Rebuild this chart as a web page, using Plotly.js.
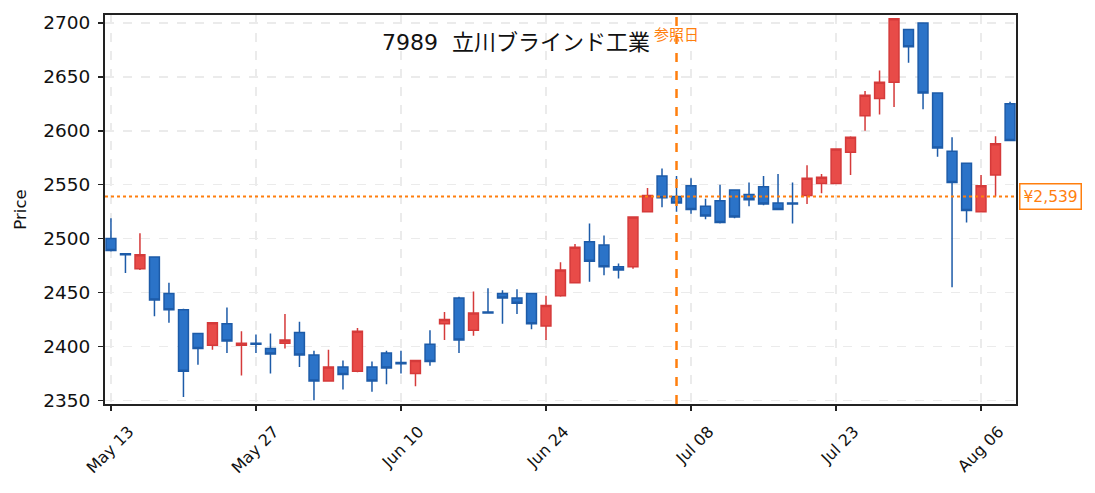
<!DOCTYPE html>
<html>
<head>
<meta charset="utf-8">
<script src="https://cdn.plot.ly/plotly-3.0.1.min.js"></script>
<style>
  html, body { margin: 0; padding: 0; background: #fff; }
  #chart { width: 1095px; height: 493px; }
</style>
</head>
<body>
<div id="chart"></div>
<script>
// trading days, May 13 - Aug 8 2024
const dates = [
  '2024-05-13','2024-05-14','2024-05-15','2024-05-16','2024-05-17',
  '2024-05-20','2024-05-21','2024-05-22','2024-05-23','2024-05-24',
  '2024-05-27','2024-05-28','2024-05-29','2024-05-30','2024-05-31',
  '2024-06-03','2024-06-04','2024-06-05','2024-06-06','2024-06-07',
  '2024-06-10','2024-06-11','2024-06-12','2024-06-13','2024-06-14',
  '2024-06-17','2024-06-18','2024-06-19','2024-06-20','2024-06-21',
  '2024-06-24','2024-06-25','2024-06-26','2024-06-27','2024-06-28',
  '2024-07-01','2024-07-02','2024-07-03','2024-07-04','2024-07-05',
  '2024-07-08','2024-07-09','2024-07-10','2024-07-11','2024-07-12',
  '2024-07-16','2024-07-17','2024-07-18','2024-07-19',
  '2024-07-22','2024-07-23','2024-07-24','2024-07-25','2024-07-26',
  '2024-07-29','2024-07-30','2024-07-31','2024-08-01','2024-08-02',
  '2024-08-05','2024-08-06','2024-08-07','2024-08-08'
]
const opens = [2500,2486,2472,2483,2449,2434,2412,2401,2421,2401,
  2403,2398,2403,2413,2392,2368,2381,2377,2381,2394,
  2385,2375,2402,2421,2445,2415,2432,2449,2445,2449,
  2419,2447,2459,2497,2494,2474,2474,2525,2558,2539,
  2549,2530,2535,2545,2541,2548,2533,2533,2540,2551,
  2551,2580,2614,2630,2645,2694,2700,2635,2581,2570,
  2525,2559,2625]
const highs = [2519,2486,2505,2483,2459,2435,2412,2422,2436,2414,
  2411,2412,2430,2423,2396,2397,2387,2417,2386,2396,
  2396,2387,2415,2432,2446,2451,2454,2452,2453,2449,
  2447,2478,2495,2514,2503,2477,2520,2547,2565,2558,
  2556,2537,2550,2545,2552,2558,2560,2552,2568,2560,
  2583,2595,2637,2656,2704,2694,2700,2635,2594,2570,
  2559,2595,2627]
const lows = [2488,2468,2471,2428,2422,2353,2383,2397,2394,2373,
  2394,2375,2398,2381,2350,2368,2360,2376,2358,2365,
  2375,2363,2382,2406,2394,2410,2431,2421,2430,2416,
  2406,2446,2459,2460,2466,2463,2472,2525,2529,2525,
  2523,2518,2514,2519,2530,2531,2527,2514,2532,2542,
  2551,2559,2600,2615,2622,2663,2620,2576,2455,2515,
  2525,2539,2591]
const closes = [2489,2485,2485,2443,2434,2377,2398,2422,2405,2403,
  2402,2393,2406,2392,2368,2381,2374,2414,2368,2380,
  2384,2387,2386,2425,2406,2431,2431,2445,2440,2421,
  2438,2471,2492,2479,2474,2471,2520,2540,2538,2533,
  2527,2521,2515,2520,2536,2532,2527,2532,2556,2557,
  2583,2594,2633,2645,2704,2678,2635,2584,2552,2526,
  2549,2588,2591]

const tickDates = ['2024-05-13','2024-05-27','2024-06-10','2024-06-24','2024-07-08','2024-07-23','2024-08-06']
const tickLabels = ['May 13','May 27','Jun 10','Jun 24','Jul 08','Jul 23','Aug 06']

const refDate = '2024-07-05'
const refPrice = 2539
const titleText = '7989\u00a0\u00a0立川ブラインド工業'

const orange = '#ff7f0e'
const font = '"DejaVu Sans", "Noto Sans CJK JP", sans-serif'

const trace = {
  type: 'candlestick',
  x: dates,
  open: opens,
  high: highs,
  low: lows,
  close: closes,
  increasing: { line: { color: '#d53a3a', width: 1.5 }, fillcolor: '#e84b48' },
  decreasing: { line: { color: '#1d5ba8', width: 1.5 }, fillcolor: '#2b73c8' },
  whiskerwidth: 0,
  hoverinfo: 'x+y',
  showlegend: false
}

const axisStyle = {
  showline: true,
  mirror: true,
  linecolor: '#222',
  linewidth: 2,
  ticks: 'outside',
  ticklen: 5,
  tickwidth: 1.5,
  tickcolor: '#222',
  showgrid: true,
  gridcolor: '#ebebeb',
  gridwidth: 1.5,
  griddash: 'dash',
  zeroline: false
}

const layout = {
  width: 1095,
  height: 493,
  margin: { l: 105, r: 79, t: 15, b: 89 },
  paper_bgcolor: '#fff',
  plot_bgcolor: '#fff',
  font: { family: font, color: '#111' },
  boxgap: 0.32,
  boxgroupgap: 0,
  xaxis: Object.assign({}, axisStyle, {
    type: 'category',
    range: [-0.41, dates.length - 0.59],
    tickmode: 'array',
    tickvals: tickDates,
    ticktext: tickLabels,
    tickangle: -45,
    tickfont: { size: 16 },
    ticklabelshift: 18,
    ticklabelstandoff: 5,
    rangeslider: { visible: false }
  }),
  yaxis: Object.assign({}, axisStyle, {
    range: [2346.6, 2707.4],
    dtick: 50,
    tick0: 2350,
    tickfont: { size: 18.5 },
    ticklabelstandoff: 4,
    title: { text: 'Price', font: { size: 16.5 }, standoff: 12 }
  }),
  shapes: [
    { type: 'line', xref: 'paper', x0: 0, x1: 1, yref: 'y', y0: refPrice, y1: refPrice,
      line: { color: orange, width: 2, dash: 'dot' } },
    { type: 'line', xref: 'x', x0: refDate, x1: refDate, yref: 'paper', y0: 0, y1: 1,
      line: { color: orange, width: 2.5, dash: 'dash' } }
  ],
  annotations: [
    { text: titleText, xref: 'paper', x: 0.451, yref: 'paper', y: 0.93,
      xanchor: 'center', yanchor: 'middle', showarrow: false,
      font: { size: 22, color: '#111' } },
    { text: '参照日', xref: 'x', x: refDate, yref: 'paper', y: 0.952,
      xanchor: 'center', yanchor: 'middle', showarrow: false,
      font: { family: '"Noto Sans CJK JP", sans-serif', size: 15, color: orange } },
    { text: '¥' + refPrice.toLocaleString('en-US'), xref: 'paper', x: 1, xanchor: 'left', xshift: 3,
      yref: 'y', y: refPrice, yanchor: 'middle', showarrow: false,
      bgcolor: '#fff', bordercolor: orange, borderwidth: 1.5, borderpad: 3,
      font: { size: 15.5, color: orange } }
  ]
}

Plotly.newPlot('chart', [trace], layout, { displayModeBar: false, staticPlot: true })
</script>
</body>
</html>
